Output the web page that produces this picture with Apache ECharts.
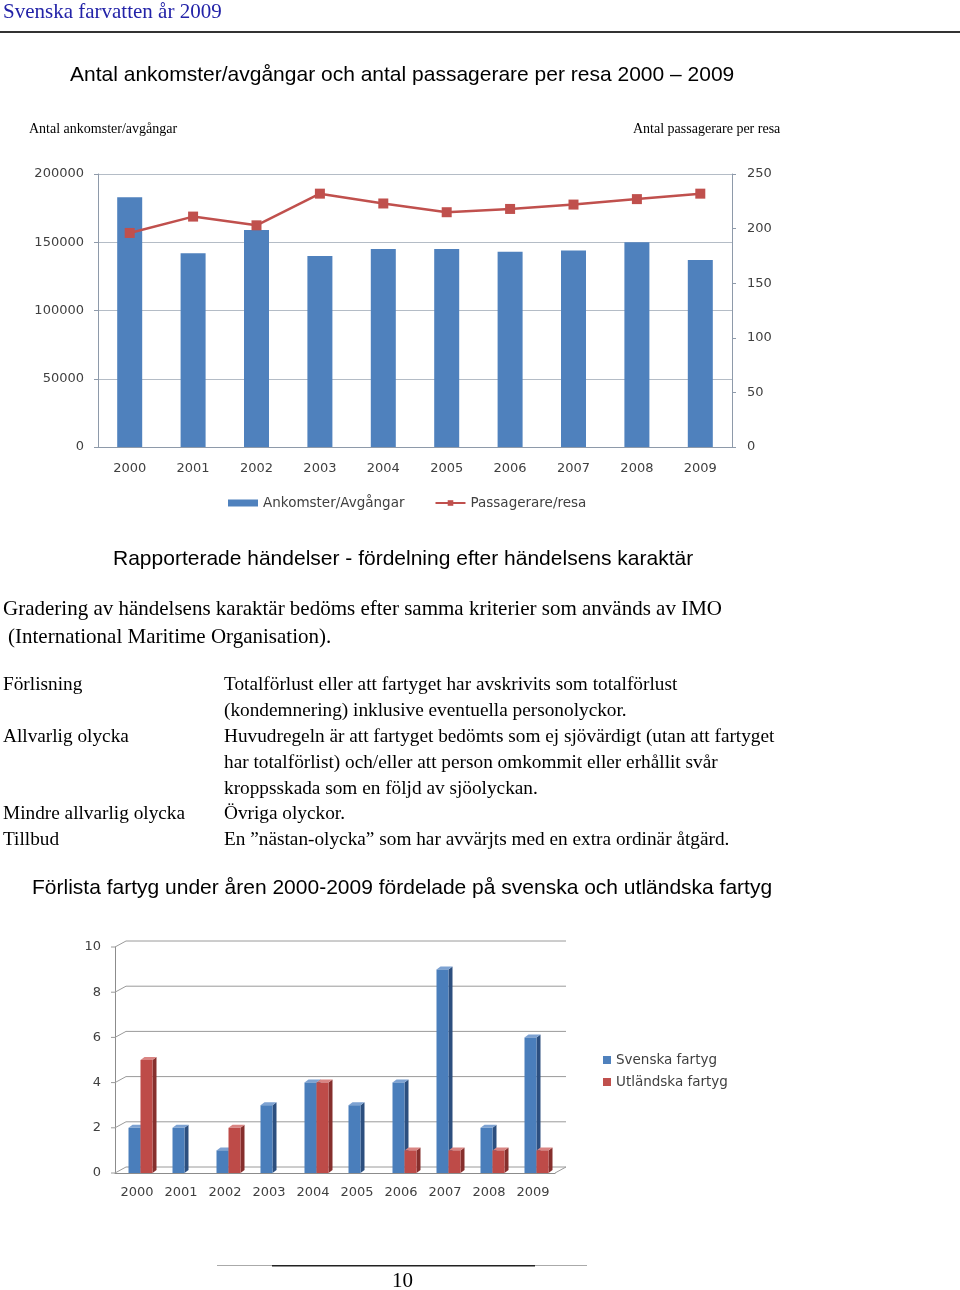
<!DOCTYPE html>
<html>
<head>
<meta charset="utf-8">
<script src="https://cdn.jsdelivr.net/npm/echarts@6/dist/echarts.min.js"></script>
<style>
  html, body { margin: 0; padding: 0; background: #fff; }
  #page { width: 960px; height: 1290px; }
</style>
</head>
<body>
<div id="page"></div>
<script>
// data
var years = ['2000', '2001', '2002', '2003', '2004', '2005', '2006', '2007', '2008', '2009'];
var ankomster = [183000, 142000, 159000, 140000, 145000, 145000, 143000, 144000, 150000, 137000];
var passagerare = [196, 211, 203, 232, 223, 215, 218, 222, 227, 232];
var svenska = [2, 2, 1, 3, 4, 3, 4, 9, 2, 6];
var utlandska = [5, 0, 2, 0, 4, 0, 1, 1, 1, 1];
var wallTicks = [0, 2, 4, 6, 8, 10];

var chart = echarts.init(document.getElementById('page'));

var serif = '"Liberation Serif", "DejaVu Serif", serif';
var sans = '"Liberation Sans", Arial, sans-serif';
var axisFont = '"DejaVu Sans", sans-serif';
var labelColor = '#404040';
var axisColor = '#8e9aaa';

// 3d-looking column, drawn from the axis scales
function bar3d(offL, offR, front, side, top) {
    return function (params, api) {
        var v = api.value(1);
        if (!v) return;
        var p = api.coord([api.value(0), v]);
        var b = api.coord([api.value(0), 0]);
        var x0 = p[0] + offL, x1 = p[0] + offR, dx = 4, dy = -3;
        return {
            type: 'group',
            children: [
                { type: 'polygon', shape: { points: [[x1, p[1]], [x1 + dx, p[1] + dy], [x1 + dx, b[1] + dy], [x1, b[1]]] }, style: { fill: side } },
                { type: 'polygon', shape: { points: [[x0, p[1]], [x0 + dx, p[1] + dy], [x1 + dx, p[1] + dy], [x1, p[1]]] }, style: { fill: top } },
                { type: 'rect', shape: { x: x0, y: p[1], width: x1 - x0, height: b[1] - p[1] }, style: { fill: front } }
            ]
        };
    };
}

// back wall gridlines of the 3d chart
function wall(params, api) {
    var cs = params.coordSys;
    var y = api.coord([0, api.value(1)])[1];
    var dx = 11, dy = -6;
    var kids = [
        { type: 'polyline', shape: { points: [[cs.x - 4, y], [cs.x, y], [cs.x + dx, y + dy], [cs.x + cs.width + dx, y + dy]] }, style: { stroke: '#9a9a9a', lineWidth: 1, fill: null } }
    ];
    if (api.value(1) === 0) {
        kids.push({ type: 'line', shape: { x1: cs.x + cs.width, y1: y, x2: cs.x + cs.width + dx, y2: y + dy }, style: { stroke: '#9a9a9a', lineWidth: 1 } });
    }
    return { type: 'group', children: kids };
}

function txt(x, y, s, font, size, color) {
    return {
        type: 'text', left: x, top: y - size * 0.45,
        style: { text: s, font: size + 'px ' + font, fill: color || '#000' }
    };
}

var defs = [
    [684, 'Förlisning', 'Totalförlust eller att fartyget har avskrivits som totalförlust'],
    [710, '', '(kondemnering) inklusive eventuella personolyckor.'],
    [736, 'Allvarlig olycka', 'Huvudregeln är att fartyget bedömts som ej sjövärdigt (utan att fartyget'],
    [762, '', 'har totalförlist) och/eller att person omkommit eller erhållit svår'],
    [788, '', 'kroppsskada som en följd av sjöolyckan.'],
    [813, 'Mindre allvarlig olycka', 'Övriga olyckor.'],
    [839, 'Tillbud', 'En ”nästan-olycka” som har avvärjts med en extra ordinär åtgärd.']
];

var graphics = [
    txt(3, 11, 'Svenska farvatten år 2009', serif, 21, '#2323a8'),
    { type: 'rect', left: 0, top: 31, shape: { width: 960, height: 2 }, style: { fill: '#333' } },
    txt(70, 74, 'Antal ankomster/avgångar och antal passagerare per resa 2000 – 2009', sans, 21, '#000'),
    txt(29, 129, 'Antal ankomster/avgångar', serif, 14, '#000'),
    txt(633, 129, 'Antal passagerare per resa', serif, 14, '#000'),
    txt(113, 558, 'Rapporterade händelser - fördelning efter händelsens karaktär', sans, 21, '#000'),
    txt(3, 608, 'Gradering av händelsens karaktär bedöms efter samma kriterier som används av IMO', serif, 21, '#000'),
    txt(8, 636, '(International Maritime Organisation).', serif, 21, '#000'),
    txt(32, 887, 'Förlista fartyg under åren 2000-2009 fördelade på svenska och utländska fartyg', sans, 21, '#000'),
    { type: 'rect', left: 217, top: 1265, shape: { width: 370, height: 1 }, style: { fill: '#aaa' } },
    { type: 'rect', left: 272, top: 1265, shape: { width: 263, height: 1.5 }, style: { fill: '#222' } },
    txt(392, 1280, '10', serif, 21, '#000')
];
defs.forEach(function (d) {
    if (d[1]) graphics.push(txt(3, d[0], d[1], serif, 19.3, '#000'));
    graphics.push(txt(224, d[0], d[2], serif, 19.3, '#000'));
});

var option = {
    animation: false,
    textStyle: { fontFamily: axisFont },
    graphic: graphics,
    grid: [
        { left: 98, top: 174, width: 634, height: 273 },
        { left: 115, top: 947, width: 440, height: 226 }
    ],
    legend: [
        {
            left: 223, top: 491, itemWidth: 30, itemHeight: 7, itemGap: 30,
            textStyle: { fontFamily: axisFont, fontSize: 13.5, color: labelColor },
            data: [{ name: 'Ankomster/Avgångar', icon: 'rect' }, 'Passagerare/resa']
        },
        {
            left: 598, top: 1048, orient: 'vertical', itemWidth: 8, itemHeight: 8, itemGap: 8,
            textStyle: { fontFamily: axisFont, fontSize: 13.5, color: labelColor },
            data: [{ name: 'Svenska fartyg', icon: 'rect' }, { name: 'Utländska fartyg', icon: 'rect' }]
        }
    ],
    xAxis: [
        {
            gridIndex: 0, type: 'category', data: years,
            axisLine: { lineStyle: { color: axisColor } },
            axisTick: { length: 4, lineStyle: { color: axisColor } },
            axisLabel: { margin: 15, fontSize: 13, color: labelColor, fontFamily: axisFont }
        },
        {
            gridIndex: 1, type: 'category', data: years,
            axisLine: { lineStyle: { color: '#8c8c8c' } },
            axisTick: { length: 4, lineStyle: { color: '#8c8c8c' } },
            axisLabel: { margin: 13, fontSize: 13, color: labelColor, fontFamily: axisFont }
        }
    ],
    yAxis: [
        {
            gridIndex: 0, type: 'value', min: 0, max: 200000, interval: 50000,
            axisLine: { show: true, lineStyle: { color: axisColor } },
            axisTick: { show: true, length: 4, lineStyle: { color: axisColor } },
            splitLine: { lineStyle: { color: '#b4bcc6' } },
            axisLabel: { margin: 14, fontSize: 13, color: labelColor, fontFamily: axisFont, formatter: function (v) { return String(v); } }
        },
        {
            gridIndex: 0, type: 'value', position: 'right', min: 0, max: 250, interval: 50,
            axisLine: { show: true, lineStyle: { color: axisColor } },
            axisTick: { show: true, length: 4, lineStyle: { color: axisColor } },
            splitLine: { show: false },
            axisLabel: { margin: 15, fontSize: 13, color: labelColor, fontFamily: axisFont }
        },
        {
            gridIndex: 1, type: 'value', min: 0, max: 10, interval: 2,
            axisLine: { show: true, lineStyle: { color: '#8c8c8c' } },
            axisTick: { show: false },
            splitLine: { show: false },
            axisLabel: { margin: 14, fontSize: 13, color: labelColor, fontFamily: axisFont }
        }
    ],
    series: [
        {
            name: 'Ankomster/Avgångar', type: 'bar', xAxisIndex: 0, yAxisIndex: 0,
            barWidth: 25, itemStyle: { color: '#4f81bd' }, data: ankomster
        },
        {
            name: 'Passagerare/resa', type: 'line', xAxisIndex: 0, yAxisIndex: 1,
            symbol: 'rect', symbolSize: 10, showAllSymbol: true,
            lineStyle: { color: '#c0504d', width: 2.5 },
            itemStyle: { color: '#c0504d' }, data: passagerare
        },
        {
            name: 'wall', type: 'custom', xAxisIndex: 1, yAxisIndex: 2, silent: true, z: 1,
            renderItem: wall, encode: { x: 0, y: 1 },
            data: wallTicks.map(function (v) { return [0, v]; })
        },
        {
            name: 'Svenska fartyg', type: 'custom', xAxisIndex: 1, yAxisIndex: 2, z: 2,
            itemStyle: { color: '#4f81bd' },
            renderItem: bar3d(-8.5, 3.5, '#4a7ebb', '#2c4f7f', '#7da2d2'), encode: { x: 0, y: 1 },
            data: svenska.map(function (v, i) { return [i, v]; })
        },
        {
            name: 'Utländska fartyg', type: 'custom', xAxisIndex: 1, yAxisIndex: 2, z: 3,
            itemStyle: { color: '#c0504d' },
            renderItem: bar3d(3.5, 15.5, '#be4b48', '#862f2d', '#d98583'), encode: { x: 0, y: 1 },
            data: utlandska.map(function (v, i) { return [i, v]; })
        }
    ]
};

option && chart.setOption(option);
</script>
</body>
</html>
